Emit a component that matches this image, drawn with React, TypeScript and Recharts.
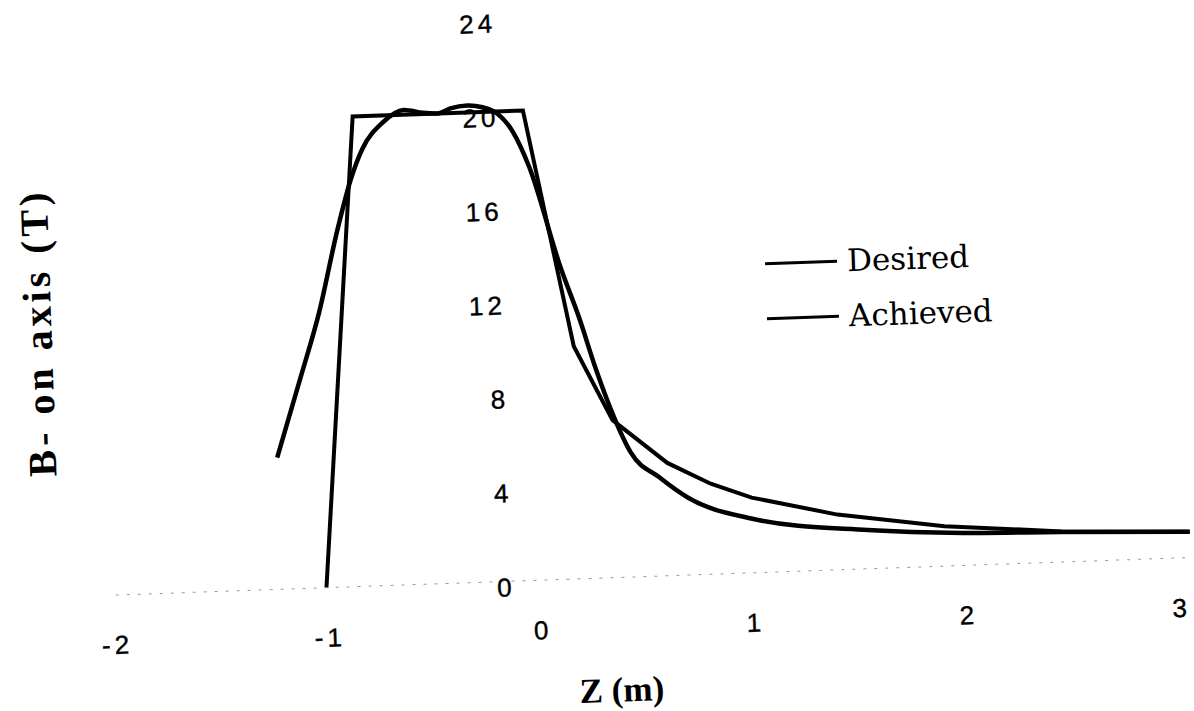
import React from "react";
import { LineChart, Line, XAxis, YAxis, Legend } from "recharts";

// values (z in metres, B in tesla)
const desiredZ = [-1.01, -0.81, -0.01, 0.19, 0.36, 0.61, 0.81, 1.0, 1.4, 1.9, 2.45, 3.05];
const desiredB = [0, 20, 20, 9.9, 6.7, 4.8, 3.85, 3.2, 2.35, 1.7, 1.3, 1.1];

const achievedZ = [
  -1.22, -1.1, -1.0, -0.9, -0.83, -0.77, -0.67, -0.57, -0.48, -0.41, -0.35, -0.27, -0.2, -0.13,
  -0.06, 0.01, 0.14, 0.22, 0.29, 0.36, 0.44, 0.57, 0.7, 1.0, 1.54, 1.99, 2.44, 3.05,
];
const achievedB = [
  5.6, 8.9, 11.7, 15.2, 17.3, 18.6, 19.7, 20.2, 20.05, 20.0, 20.2, 20.3, 20.2, 19.9,
  19.1, 17.6, 13.3, 11.1, 8.9, 7.0, 5.3, 4.2, 3.3, 2.3, 1.65, 1.38, 1.28, 1.1,
];

const xTicks = [-2, -1, 0, 1, 2, 3];
const yTicks = [0, 4, 8, 12, 16, 20, 24];
const seriesOrder = ["Desired", "Achieved"];

const desired = desiredZ.map((z, i) => ({ z, b: desiredB[i] }));
const achieved = achievedZ.map((z, i) => ({ z, b: achievedB[i] }));

const tickFont = "'Liberation Sans', Arial, sans-serif";

// the value labels sit in the middle of the plot, just left of z = 0
const Y_LABEL_SHIFT = 400;

function XTick(props: any) {
  const { x, y, payload } = props;
  return (
    <text
      x={x}
      y={y + 50}
      textAnchor="middle"
      dominantBaseline="central"
      fontFamily={tickFont}
      fontSize={26}
      letterSpacing={4}
      stroke="#000"
      strokeWidth={0.4}
      fill="#000"
    >
      {payload.value}
    </text>
  );
}

function YTick(props: any) {
  const { x, y, payload } = props;
  return (
    <text
      x={x + Y_LABEL_SHIFT}
      y={y + 6}
      textAnchor="end"
      dominantBaseline="central"
      fontFamily={tickFont}
      fontSize={26}
      letterSpacing={4}
      stroke="#000"
      strokeWidth={0.4}
      fill="#000"
    >
      {payload.value}
    </text>
  );
}

function LegendBox({ payload }: any) {
  const items = [...(payload || [])].sort(
    (a: any, b: any) => seriesOrder.indexOf(a.value) - seriesOrder.indexOf(b.value)
  );
  return (
    <div>
      {items.map((p: any) => (
        <div key={p.value} style={{ display: "flex", alignItems: "center", height: 55 }}>
          <div style={{ width: 72, height: 3, background: "#000" }} />
          <span
            style={{
              marginLeft: 10,
              fontFamily: "'DejaVu Serif', serif",
              fontSize: 31,
              color: "#000",
            }}
          >
            {p.value}
          </span>
        </div>
      ))}
    </div>
  );
}

export default function App() {
  return (
    <div
      style={{
        position: "absolute",
        left: 0,
        top: 0,
        width: 1194,
        height: 711,
        background: "#fff",
        transform: "rotate(-2deg)",
        transformOrigin: "600px 350px",
      }}
    >
      <LineChart width={1194} height={711} margin={{ top: 14, right: 11, bottom: 73, left: 67.5 }}>
        <XAxis
          type="number"
          dataKey="z"
          domain={[-2, 3.05]}
          ticks={xTicks}
          height={60}
          tickSize={0}
          tickMargin={0}
          tickLine={false}
          axisLine={{ stroke: "#999", strokeDasharray: "3 8" }}
          tick={<XTick />}
          allowDuplicatedCategory={false}
        />
        <YAxis
          type="number"
          domain={[0, 24]}
          ticks={yTicks}
          width={40}
          tickSize={0}
          tickMargin={0}
          tickLine={false}
          axisLine={false}
          tick={<YTick />}
        />
        <Legend
          layout="horizontal"
          align="center"
          verticalAlign="middle"
          content={<LegendBox />}
          wrapperStyle={{ left: 768, top: 241.5, width: 400 }}
        />
        <Line
          data={desired}
          dataKey="b"
          name="Desired"
          type="linear"
          stroke="#000"
          strokeWidth={4}
          dot={false}
          isAnimationActive={false}
        />
        <Line
          data={achieved}
          dataKey="b"
          name="Achieved"
          type="monotone"
          stroke="#000"
          strokeWidth={4.5}
          dot={false}
          isAnimationActive={false}
        />
      </LineChart>
      <div
        style={{
          position: "absolute",
          left: 610,
          top: 691,
          transform: "translate(-50%, -50%)",
          fontFamily: "'Liberation Serif', 'Times New Roman', serif",
          fontWeight: "bold",
          fontSize: 35,
          whiteSpace: "nowrap",
        }}
      >
        Z (m)
      </div>
      <div
        style={{
          position: "absolute",
          left: 39,
          top: 313,
          transform: "translate(-50%, -50%) rotate(-90deg)",
          fontFamily: "'Liberation Serif', 'Times New Roman', serif",
          fontWeight: "bold",
          fontSize: 40,
          letterSpacing: 4,
          whiteSpace: "nowrap",
        }}
      >
        B- on axis (T)
      </div>
    </div>
  );
}
